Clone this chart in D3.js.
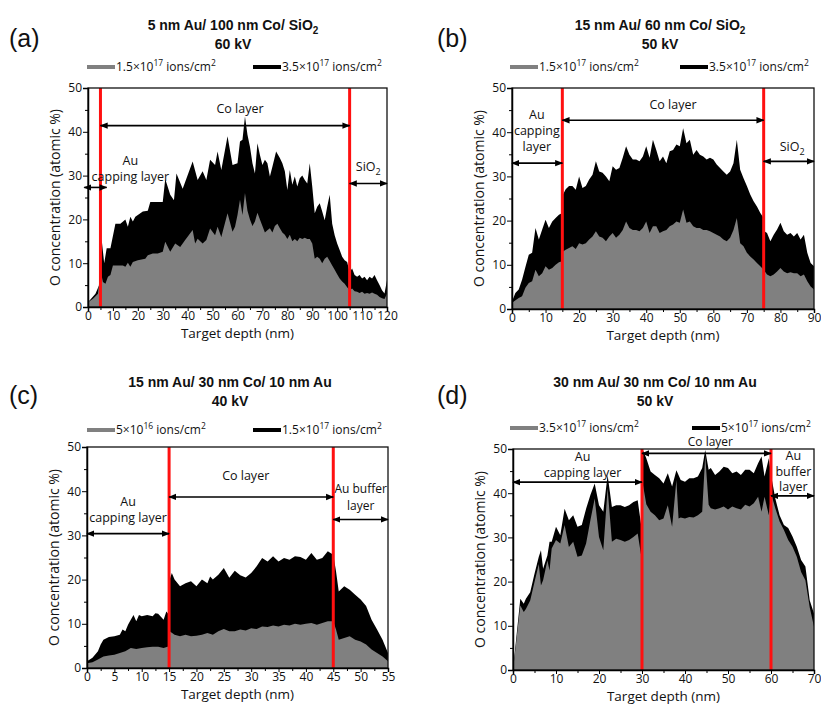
<!doctype html>
<html lang="en">
<head>
<meta charset="utf-8">
<title>O concentration depth profiles</title>
<style>
  body { margin: 0; background: #fff; }
  text { font-family: "Open Sans", sans-serif; fill: #111; }
  .ttl { font-family: "Liberation Sans", Arial, sans-serif; font-weight: bold; font-size: 14px; }
  .plabel { font-family: "Liberation Sans", Arial, sans-serif; font-size: 25px; }
  .tick text { font-size: 12px; font-family: "Open Sans", sans-serif; }
</style>
</head>
<body>
<svg id="chart" width="821" height="704"></svg>
<script src="https://d3js.org/d3.v7.min.js"></script>
<script>
// ---- data: [depth (nm), O concentration (at.%)] ----
var aGray = [[0,1.1],[2,1.9],[4,3],[5,8.4],[6,5.7],[7,5.3],[8,6.9],[9,7.3],[10,9.5],[12,9.5],[14,9.5],[15,9.2],[16,10.1],[17,9.2],[18,10.3],[20,10.7],[22,10.9],[23,11],[24,11.8],[26,12.2],[28,12.2],[30,12.6],[31,14.9],[33,12.6],[35,14.5],[37,13.7],[39,15.3],[42,17.6],[43,14.5],[44,15.6],[46,14.5],[47.5,15.3],[49,17.9],[51,16.4],[52,18.3],[53.5,16],[56,21.4],[58,17.2],[59,18.3],[60,21],[61,24.5],[62,21],[63,26],[64,22],[65,20],[66,18.5],[67,19.5],[68,21.5],[69,20],[70,18.5],[71,17],[72,17.5],[73,18],[74,17],[75,18.5],[76,19],[77,18],[78,17],[79,16.5],[80,15.5],[81,16.5],[82,15],[83,15.5],[84,15],[85,15.8],[86,15.5],[87,15.8],[88,15.5],[89,15.5],[90,14.5],[91,11],[92,11.5],[93,11],[94,10],[95,11],[96,11.5],[97,10.5],[98,9.5],[99,8.5],[100,7.5],[101,6.5],[102,5.8],[103,5.3],[104,4.5],[105,3.8],[106,4.2],[107,3.6],[108,3.5],[109,3.2],[110,3.5],[111,3],[112,3.2],[113,3],[114,3.3],[115,3],[116,2.8],[117,2.3],[118,2],[119,1.8],[120,3]];
var aBlack = [[0,1.1],[3,3],[4.5,5],[5,9],[5.5,15.3],[6.5,10],[7.5,13.4],[9,13.4],[11,19],[13,19],[15,20],[16,18.3],[17,20.6],[18,19.5],[19,20.6],[20,21],[22,21.8],[24,22],[25,24],[30,24],[31,29.2],[33,25.6],[34.5,24.4],[35.5,30.5],[38,27],[42,33.2],[44,29],[46,31],[47.5,29],[49,33.6],[51,32.4],[52,35.5],[53.5,31.3],[56,39],[58,32.4],[60,32.8],[61,37.8],[62,38.2],[63,43.5],[64,39.3],[65,36.6],[66,32.8],[67,30.5],[68,37.4],[69,34.7],[70,32.4],[71,33.6],[72,32.8],[73,29.8],[74,32],[75.5,35.5],[77,34],[78,32.8],[79,31],[80,26.7],[81,31.3],[82,27.9],[83,29.8],[84,27.5],[85,29.4],[86,30],[87,29],[88,28.2],[89,32.8],[90,27.5],[91,21.4],[92,22.9],[93,23.7],[94,21.8],[95,19.8],[96,22.9],[97,25.6],[98,19],[99,16.4],[100,14.5],[101,13],[102,11.5],[103,10.7],[104,10.3],[105,8],[106,8.8],[107,7.3],[108,6.9],[109,7.3],[110,6.5],[111,6.9],[112,6.1],[113,6.9],[114,6.5],[115,7.3],[116,6.1],[117,5],[118,3.8],[119,3.1],[120,6.1]];

var bGray = [[0,1.4],[2,2.5],[3,2.9],[4,4.8],[5,5.9],[6,6.3],[7,8.9],[8,7.4],[9,8.1],[10,9.7],[11,8.9],[12,9.3],[13,10],[14,10.6],[15,10.8],[15.2,13],[16,13.4],[17,13.8],[18,14.2],[19,13.6],[20,14.9],[21,14.6],[22,14.9],[23,15.7],[24,16.4],[25,17.6],[26,16.4],[27,16.1],[28,15.3],[29,16.4],[30,17.2],[31,16.1],[32,16.8],[33,17.9],[34,19.8],[35,18.3],[36,17.9],[37,17.9],[38,17.6],[39,18.3],[40,19.8],[41,17.2],[42,18.7],[43,18.7],[44,17.2],[45,17.6],[46,17.9],[47,18.7],[48,19.1],[49,19.8],[50,19.5],[51,22.5],[52,19.5],[53,19.8],[54,18.7],[55,18.3],[56,18.3],[57,17.9],[58,17.9],[59,17.6],[60,17.2],[61,16.8],[62,16.4],[63,15.7],[64,15.3],[65,16.1],[66,17.9],[67,20.6],[68,14.9],[69,14.2],[70,12.7],[71,11.9],[72,11.2],[73,10.4],[74,9.7],[75,8.9],[76,7.8],[77,7.4],[78,7.8],[79,8.5],[80,9.3],[81,8.5],[82,8.1],[83,8.3],[84,8.1],[85,8.1],[86,7.4],[87,7.8],[88,6.3],[89,5.1],[90,4.4]];
var bBlack = [[0,1.7],[1,3.6],[2,4.4],[3,6.6],[4,9.5],[5,12.3],[6,12.7],[7,18.3],[8,15.7],[9,18],[10,20.2],[11,18.3],[12,19.8],[13,20.6],[14,21.3],[15,21.7],[15.2,25.9],[16,27.1],[17,27.8],[18,27.8],[19,27],[20,30],[21,27.4],[22,27.8],[23,29.3],[24,30.4],[25,33.4],[26,31.1],[27,30.8],[28,30],[29,28.9],[30,32.3],[31,31.5],[32,31.9],[33,34.2],[34,36.8],[35,34.9],[36,33.8],[37,33.8],[38,33.4],[39,34.5],[40,36.8],[41,34.2],[42,38.3],[43,36],[44,33.4],[45,34.5],[46,33],[47,35.7],[48,36],[49,37.2],[50,36.8],[51,40.9],[52,37.5],[53,38.3],[54,34.9],[55,36],[56,34.9],[57,34.5],[58,33.8],[59,34.2],[60,33.8],[61,32.7],[62,31.9],[63,31.1],[64,30.4],[65,31.1],[66,33],[67,38.3],[68,31.5],[69,29.6],[70,27.8],[71,25.9],[72,24.4],[73,23.2],[74,21.7],[75,20.6],[75.2,17.6],[76,17.2],[77,15.3],[78,16.8],[79,18],[80,19.5],[81,17.6],[82,16.8],[83,17.2],[84,16.4],[85,17.2],[86,15.7],[87,16.8],[88,12.7],[89,10.4],[90,9.7]];

var cGray = [[0,1.1],[1,1.3],[2,1.9],[3,2.6],[4,2.8],[5,3],[6,3.4],[7,3.8],[8,4.5],[9,4.3],[10,4.5],[11,4.7],[12,4.8],[13,4.8],[14,4.5],[15,4.9],[15.1,8.3],[16,7.5],[17,7.2],[18,7.5],[19,7.2],[20,7.3],[21,7.5],[22,7.9],[23,7.5],[24,8.3],[25,8.8],[26,8.3],[27,8.3],[28,8.7],[29,8.5],[30,9],[31,8.8],[32,9.4],[33,9.3],[34,9.6],[35,9.4],[36,9.8],[37,9.6],[38,10],[39,9.8],[40,10],[41,10.2],[42,9.8],[43,10.2],[44,10.6],[45,10.6],[45.5,8.7],[46,6.4],[47,6.8],[48,7.2],[49,6.4],[50,6],[51,5.3],[52,4.2],[53,3.4],[54,2.6],[55,1.5]];
var cBlack = [[0,1.5],[1,2.3],[2,3.8],[2.5,5.3],[3,6.4],[4,7],[5,7.2],[6,7.5],[6.5,8.7],[7,8.3],[7.5,9.8],[8,10.9],[8.5,12],[9,10.6],[9.5,12],[10,11.7],[11,12],[12,11.7],[12.5,12.4],[13,12.3],[14,10.9],[14.5,12.8],[15,12],[15.1,20],[15.5,21.5],[16,20],[17,18.5],[18,19.2],[19,19.6],[20,18.5],[21,20],[22,19.2],[22.5,20.7],[23,20],[24,21.1],[25,22.6],[26,20.4],[27,22],[28,21],[29,20.5],[30,21.5],[31,23],[32,24.9],[33,24.1],[34,25.3],[35,24.1],[36,24.9],[37,24.5],[38,25.3],[39,25.1],[40,24.5],[41,26],[42,24.5],[43,24.9],[44,26.4],[45,25.6],[45.5,21.9],[46,17.3],[47,18.5],[48,17.7],[49,16.6],[50,15.5],[51,14],[52,10.9],[53,8.7],[54,6.4],[55,3.4]];

var dGray = [[0,0],[1.7,14.6],[2.5,13.1],[3,13.8],[4,15.7],[5,19.9],[6,24],[6.5,19.1],[7,20.3],[8,24.8],[8.5,22.5],[9,27.5],[10,29.4],[11,28.6],[12,32.8],[13,27.8],[14,29],[15,25.6],[16,25.9],[17,28.6],[18,33.9],[19,38.8],[20,30.1],[21,27.1],[22,41.1],[23,29],[24,29.7],[25,29.4],[26,29],[27,29.4],[28,30.1],[29,30.9],[29.8,25.9],[30.2,42],[31,37.5],[32,35.8],[33,35],[34,33.9],[35,34.3],[36,37.3],[37,32.4],[38,43],[38.5,34.3],[39,34.5],[40,34.3],[41,34.6],[42,34.5],[43,35],[44,35.8],[44.7,48.5],[45.5,37.4],[46,36.6],[47,36.3],[48,36.6],[49,37],[50,36.3],[51,37],[52,36.6],[53,36.3],[54,37.4],[55,37],[56,37.7],[57,39.2],[57.8,35.8],[58.5,39.2],[59.5,35],[60,40],[61,36.6],[62,33.6],[63,31.7],[64,29.4],[65,27.9],[66,25.6],[67,22.2],[68,20.3],[69,14.2],[70,9.8]];
var dBlack = [[0,0],[1.7,16.1],[2.5,15],[3,16.1],[4,17.6],[5,21.8],[6,25.6],[6.5,27.1],[7,22.9],[8,25.9],[8.5,29],[9,29],[10,32.4],[11,30.5],[12,36.5],[13,33.9],[14,35],[15,32.4],[16,32.8],[17,36.5],[18,39.6],[19,42.2],[20,37.3],[21,35.8],[22,44.1],[23,36.9],[24,37.3],[25,37.3],[26,36.9],[27,37.3],[28,38],[29,38.4],[29.8,32.8],[30.2,49.8],[31,47.9],[32,44.9],[33,44.1],[34,43.4],[35,42.2],[36,44.5],[37,41.5],[38,45.2],[39,43],[40,42.6],[41,43.4],[42,43.4],[43,43.8],[44,45.7],[44.7,49.8],[45.5,45.3],[46,45.7],[47,44.1],[48,44.9],[49,46],[50,45.7],[51,44.5],[52,44.9],[53,44.1],[54,45.3],[55,45.3],[56,44.5],[57,46.8],[57.8,48.3],[58.5,43.8],[59.5,47.9],[60,44.1],[61,38.8],[62,35],[63,32.8],[64,32.1],[65,30.2],[66,27.9],[67,24.9],[68,23.4],[69,15.8],[70,12.8]];

// titles, legends, layer boundaries
var titles = [["5 nm Au/ 100 nm Co/ SiO", "2"], ["15 nm Au/ 60 nm Co/ SiO", "2"], ["15 nm Au/ 30 nm Co/ 10 nm Au", ""], ["30 nm Au/ 30 nm Co/ 10 nm Au", ""]];
var voltages = ["60 kV", "50 kV", "40 kV", "50 kV"];
var grayDoses = [["1.5", "17"], ["1.5", "17"], ["5", "16"], ["3.5", "17"]];
var blackDoses = [["3.5", "17"], ["3.5", "17"], ["1.5", "17"], ["5", "17"]];
var boundaries = [[5, 105], [15, 75], [15, 45], [30, 60]];
var yTicks = [0, 10, 20, 30, 40, 50];

var svg = d3.select("#chart");

var defs = svg.append("defs");
defs.append("marker")
    .attr("id", "head")
    .attr("viewBox", "0 0 10 10")
    .attr("refX", 9).attr("refY", 5)
    .attr("markerWidth", 8).attr("markerHeight", 8)
    .attr("markerUnits", "userSpaceOnUse")
    .attr("orient", "auto-start-reverse")
    .append("path").attr("d", "M0,1 L10,5 L0,9 z").attr("fill", "#000");

var panels = [
  {letter: "(a)", left: 88, right: 387, top: 88, bottom: 307, xmax: 120, step: 10, titleX: 233, titleY: 30, legY: 67, gx: 87, bx: 253,
   gray: aGray, black: aBlack,
   notes: [
     {lines: ["Co layer"], x: 61, y: 113},
     {lines: ["Au", "capping layer"], x: 17, y: 165, lh: 16},
     {lines: ["SiO", "2"], x: 112.5, y: 171, sub: true}],
   arrows: [[5, 105, 41.4], [-1.5, 7.5, 27.3], [105, 120, 28.2]]},
  {letter: "(b)", left: 512, right: 814, top: 88, bottom: 309, xmax: 90, step: 10, titleX: 660, titleY: 30, legY: 67, gx: 510, bx: 680,
   gray: bGray, black: bBlack,
   notes: [
     {lines: ["Co layer"], x: 48, y: 109},
     {lines: ["Au", "capping", "layer"], x: 7.4, y: 119, lh: 16},
     {lines: ["SiO", "2"], x: 83.5, y: 151, sub: true}],
   arrows: [[15, 75, 42.7], [0, 15, 33], [75, 90, 33.4]]},
  {letter: "(c)", left: 87, right: 388, top: 447, bottom: 668, xmax: 55, step: 5, titleX: 230, titleY: 387, legY: 430, gx: 87, bx: 253,
   gray: cGray, black: cBlack,
   notes: [
     {lines: ["Co layer"], x: 29, y: 480},
     {lines: ["Au", "capping layer"], x: 7.5, y: 506, lh: 16},
     {lines: ["Au buffer", "layer"], x: 50, y: 493, lh: 16.5, size: 12}],
   arrows: [[15, 45, 38.7], [0, 15, 30.4], [45, 55, 33.6]]},
  {letter: "(d)", left: 513, right: 814, top: 449, bottom: 670, xmax: 70, step: 10, titleX: 655, titleY: 387, legY: 428, gx: 510, bx: 692,
   gray: dGray, black: dBlack,
   notes: [
     {lines: ["Co layer"], x: 45.9, y: 446, size: 12},
     {lines: ["Au", "capping layer"], x: 16.2, y: 461, lh: 16},
     {lines: ["Au", "buffer", "layer"], x: 65.2, y: 460, lh: 15.5}],
   arrows: [[30, 60, 49], [0, 30, 42.5], [60, 70, 39.4]]}
];

panels.forEach(function(p, i) {
  var g = svg.append("g");
  var x = d3.scaleLinear().domain([0, p.xmax]).range([p.left, p.right]);
  var y = d3.scaleLinear().domain([0, 50]).range([p.bottom, p.top]);

  var area = d3.area()
      .x(function(d) { return x(d[0]); })
      .y0(y(0))
      .y1(function(d) { return y(d[1]); });

  g.append("path").datum(p.black).attr("d", area).attr("fill", "#000");
  g.append("path").datum(p.gray).attr("d", area).attr("fill", "#808080");

  // layer boundaries
  boundaries[i].forEach(function(b) {
    g.append("line")
      .attr("x1", x(b)).attr("x2", x(b))
      .attr("y1", y(0)).attr("y2", y(50))
      .attr("stroke", "#ff1010").attr("stroke-width", 3);
  });

  // frame
  g.append("rect")
    .attr("x", p.left).attr("y", p.top)
    .attr("width", p.right - p.left).attr("height", p.bottom - p.top)
    .attr("fill", "none").attr("stroke", "#111").attr("stroke-width", 1.3);

  // axes
  var xMajor = d3.range(0, p.xmax + 0.01, p.step);
  var xMinor = d3.range(p.step / 2, p.xmax, p.step);
  g.append("g").attr("transform", "translate(0," + p.bottom + ")")
    .call(d3.axisBottom(x).tickValues(xMinor).tickSize(3).tickFormat(""))
    .call(function(s) { s.select(".domain").remove(); });
  g.append("g").attr("class", "xa").attr("transform", "translate(0," + p.bottom + ")")
    .call(d3.axisBottom(x).tickValues(xMajor).tickSize(4).tickPadding(0).tickFormat(d3.format("d")))
    .call(function(s) { s.select(".domain").attr("stroke-width", 1.5); });

  g.append("g").attr("transform", "translate(" + p.left + ",0)")
    .call(d3.axisLeft(y).tickValues([5, 15, 25, 35, 45]).tickSize(3).tickFormat(""))
    .call(function(s) { s.select(".domain").remove(); });
  g.append("g").attr("transform", "translate(" + p.left + ",0)")
    .call(d3.axisLeft(y).tickValues(yTicks).tickSize(5).tickPadding(1))
    .call(function(s) { s.select(".domain").attr("stroke-width", 1.5); });

  // axis titles
  g.append("text")
    .attr("x", (p.left + p.right) / 2).attr("y", p.bottom + 31)
    .attr("text-anchor", "middle").attr("font-size", 13.5)
    .text("Target depth (nm)");
  g.append("text")
    .attr("transform", "translate(" + (p.left - 28) + "," + ((p.top + p.bottom) / 2) + ") rotate(-90)")
    .attr("text-anchor", "middle").attr("font-size", 14)
    .text("O concentration (atomic %)");

  // panel letter and title
  g.append("text").attr("class", "plabel")
    .attr("x", i % 2 ? 437 : 9).attr("y", p.titleY + 17)
    .text(p.letter);
  var t = g.append("text").attr("class", "ttl")
    .attr("x", p.titleX).attr("y", p.titleY).attr("text-anchor", "middle");
  t.append("tspan").text(titles[i][0]);
  if (titles[i][1]) {
    t.append("tspan").attr("dy", 4).attr("font-size", 10).text(titles[i][1]);
  }
  g.append("text").attr("class", "ttl")
    .attr("x", p.titleX).attr("y", p.titleY + 19).attr("text-anchor", "middle")
    .text(voltages[i]);

  // legend
  function legendItem(x0, color, dose) {
    g.append("line")
      .attr("x1", x0).attr("x2", x0 + 28)
      .attr("y1", p.legY).attr("y2", p.legY)
      .attr("stroke", color).attr("stroke-width", 4);
    var lt = g.append("text").attr("x", x0 + 29).attr("y", p.legY + 4).attr("font-size", 12);
    lt.append("tspan").text(dose[0] + "\u00d710");
    lt.append("tspan").attr("dy", -5).attr("font-size", 8.5).text(dose[1]);
    lt.append("tspan").attr("dy", 5).text(" ions/cm");
    lt.append("tspan").attr("dy", -5).attr("font-size", 8.5).text("2");
  }
  legendItem(p.gx, "#808080", grayDoses[i]);
  legendItem(p.bx, "#000", blackDoses[i]);

  // layer annotations (multi-line notes as one wrapped text)
  p.notes.forEach(function(n) {
    var nt = g.append("text").attr("x", x(n.x)).attr("y", n.y)
      .attr("text-anchor", "middle").attr("font-size", n.size || 12.5);
    if (n.sub) {
      nt.append("tspan").text(n.lines[0]);
      nt.append("tspan").attr("dy", 4).attr("font-size", 9).text(n.lines[1]);
      return;
    }
    n.lines.forEach(function(l, k) {
      nt.append("tspan").attr("x", x(n.x)).attr("dy", k ? n.lh : 0).text(l);
    });
  });

  p.arrows.forEach(function(a) {
    g.append("line")
      .attr("x1", x(a[0])).attr("x2", x(a[1]))
      .attr("y1", y(a[2])).attr("y2", y(a[2]))
      .attr("stroke", "#000").attr("stroke-width", 1.6)
      .attr("marker-start", "url(#head)").attr("marker-end", "url(#head)");
  });
});
</script>
</body>
</html>
